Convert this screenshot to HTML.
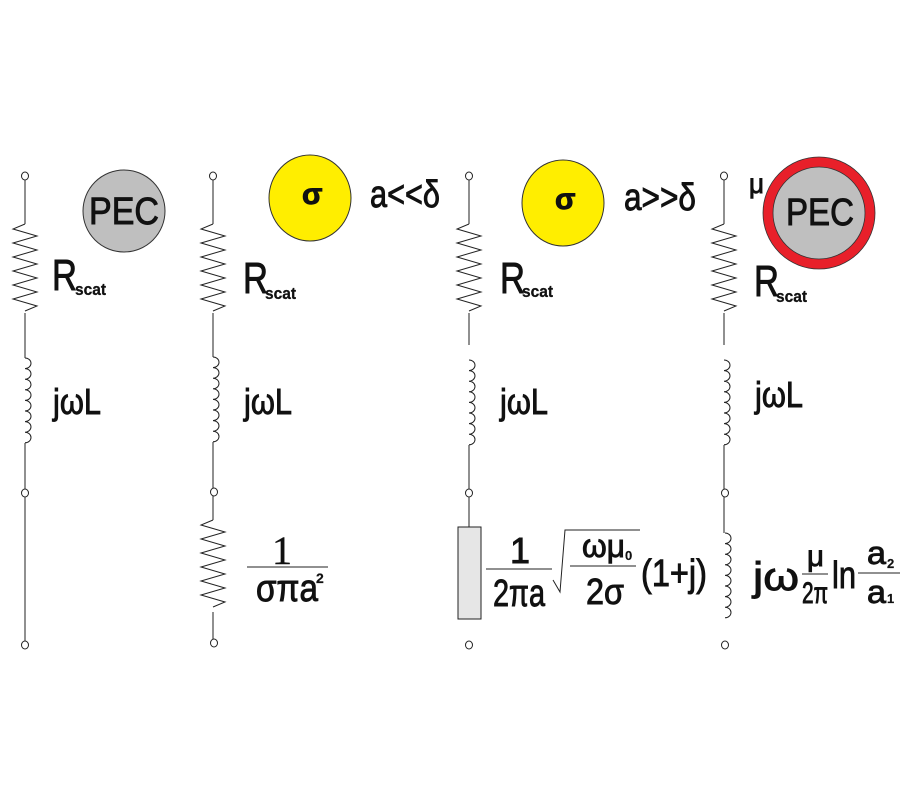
<!DOCTYPE html>
<html><head><meta charset="utf-8"><style>html,body{margin:0;padding:0;background:#fff}svg{display:block}.t{stroke:#111;stroke-width:0.9}</style></head>
<body>
<svg width="900" height="800" viewBox="0 0 900 800" xmlns="http://www.w3.org/2000/svg" font-family="Liberation Sans, Arial, sans-serif" fill="#111">
<defs>
<path id="res" d="M0,0 l-12,5 l24,7 l-24,7 l24,7 l-24,7 l24,7 l-24,7 l24,7 l-24,7 l24,7 l-24,7 l24,7 l-12,5" fill="none" stroke="#222" stroke-width="1"/>
<path id="ind" d="M0,0 a6,5.3 0 0 1 0,10.6 a6,5.3 0 0 1 0,10.6 a6,5.3 0 0 1 0,10.6 a6,5.3 0 0 1 0,10.6 a6,5.3 0 0 1 0,10.6 a6,5.3 0 0 1 0,10.6 a6,5.3 0 0 1 0,10.6 a6,5.3 0 0 1 0,10.6" fill="none" stroke="#222" stroke-width="1"/>
</defs>
<g stroke="#222" stroke-width="1" fill="none">
<line x1="25" y1="180" x2="25" y2="224"/><line x1="25" y1="313" x2="25" y2="358"/><line x1="25" y1="443" x2="25" y2="489"/><line x1="25" y1="497" x2="25" y2="641"/>
<line x1="213" y1="180" x2="213" y2="224"/><line x1="213" y1="313" x2="213" y2="357"/><line x1="213" y1="442" x2="213" y2="488"/><line x1="213" y1="496" x2="213" y2="520"/><line x1="213" y1="612" x2="213" y2="639"/>
<line x1="469" y1="180" x2="469" y2="224"/><line x1="469" y1="313" x2="469" y2="345"/><line x1="469" y1="445" x2="469" y2="489"/><line x1="469" y1="497" x2="469" y2="527"/>
<line x1="724" y1="180" x2="724" y2="224"/><line x1="724" y1="313" x2="724" y2="345"/><line x1="724" y1="445" x2="724" y2="489"/><line x1="724" y1="497" x2="724" y2="533"/>
</g>
<g fill="#fff" stroke="#222" stroke-width="1">
<ellipse cx="25" cy="176" rx="3.5" ry="4"/><ellipse cx="25" cy="493" rx="3.5" ry="4"/><ellipse cx="25" cy="645" rx="3.5" ry="4"/>
<ellipse cx="213" cy="176" rx="3.5" ry="4"/><ellipse cx="214" cy="492" rx="3.5" ry="4"/><ellipse cx="214" cy="643" rx="3.5" ry="4"/>
<ellipse cx="469" cy="176" rx="3.5" ry="4"/><ellipse cx="469" cy="493" rx="3.5" ry="4"/><ellipse cx="469" cy="645" rx="3.5" ry="4"/>
<ellipse cx="724" cy="176" rx="3.5" ry="4"/><ellipse cx="725" cy="493" rx="3.5" ry="4"/><ellipse cx="725" cy="645" rx="3.5" ry="4"/>
</g>
<use href="#res" x="25" y="224"/><use href="#res" x="213" y="224"/><use href="#res" x="213" y="520"/>
<use href="#res" x="469" y="224"/><use href="#res" x="724" y="224"/>
<use href="#ind" x="25" y="358"/><use href="#ind" x="213" y="357"/><use href="#ind" x="469" y="360"/><use href="#ind" x="724" y="360"/><use href="#ind" x="725" y="533"/>
<rect x="458" y="527" width="23" height="92" fill="#e6e6e6" stroke="#222" stroke-width="1"/>
<circle cx="124" cy="211" r="41" fill="#bfbfbf" stroke="#333"/>
<ellipse cx="310" cy="198" rx="41" ry="43" fill="#ffee00" stroke="#333"/>
<ellipse cx="563" cy="203" rx="41" ry="43" fill="#ffee00" stroke="#333"/>
<circle cx="819" cy="213" r="51" fill="#bfbfbf" stroke="#e8202a" stroke-width="10"/>
<circle cx="819" cy="213" r="56" fill="none" stroke="#333" stroke-width="0.8"/>
<circle cx="819" cy="213" r="46" fill="none" stroke="#333" stroke-width="0.8"/>
<g class="t">
<g font-size="38">
<text x="89" y="224" textLength="70" lengthAdjust="spacingAndGlyphs">PEC</text>
<text x="786" y="225" textLength="68" lengthAdjust="spacingAndGlyphs">PEC</text>
<text x="302" y="204" font-size="30" font-weight="bold">σ</text>
<text x="555" y="209" font-size="30" font-weight="bold">σ</text>
<text x="370" y="207" textLength="70" lengthAdjust="spacingAndGlyphs">a&lt;&lt;δ</text>
<text x="624" y="210" textLength="72" lengthAdjust="spacingAndGlyphs">a&gt;&gt;δ</text>
<text x="749" y="193" font-size="28" textLength="15" lengthAdjust="spacingAndGlyphs">μ</text>
</g>
<g font-size="44">
<text x="52" y="290" textLength="25" lengthAdjust="spacingAndGlyphs">R</text><text x="75" y="295" font-size="17" font-weight="bold" stroke-width="0.3" textLength="31" lengthAdjust="spacingAndGlyphs">scat</text>
<text x="243" y="293" textLength="25" lengthAdjust="spacingAndGlyphs">R</text><text x="265" y="299" font-size="17" font-weight="bold" stroke-width="0.3" textLength="31" lengthAdjust="spacingAndGlyphs">scat</text>
<text x="500" y="293" textLength="25" lengthAdjust="spacingAndGlyphs">R</text><text x="522" y="297" font-size="17" font-weight="bold" stroke-width="0.3" textLength="31" lengthAdjust="spacingAndGlyphs">scat</text>
<text x="754" y="296" textLength="25" lengthAdjust="spacingAndGlyphs">R</text><text x="776" y="302" font-size="17" font-weight="bold" stroke-width="0.3" textLength="31" lengthAdjust="spacingAndGlyphs">scat</text>
</g>
<g font-size="36">
<text x="53" y="414" textLength="48" lengthAdjust="spacingAndGlyphs">jωL</text>
<text x="244" y="414" textLength="48" lengthAdjust="spacingAndGlyphs">jωL</text>
<text x="500" y="414" textLength="48" lengthAdjust="spacingAndGlyphs">jωL</text>
<text x="755" y="407" textLength="48" lengthAdjust="spacingAndGlyphs">jωL</text>
</g>
<text x="272" y="564" font-size="40" font-family="Liberation Serif, serif" stroke-width="0.4">1</text>
<text x="256" y="601" font-size="38" textLength="62" lengthAdjust="spacingAndGlyphs">σπa</text>
<text x="316" y="583" font-size="14" font-weight="bold" stroke-width="0.2">2</text>
<text x="510" y="563" font-size="36" textLength="20" lengthAdjust="spacingAndGlyphs">1</text>
<text x="493" y="606" font-size="38" textLength="52" lengthAdjust="spacingAndGlyphs">2πa</text>
<text x="582" y="557" font-size="32" textLength="43" lengthAdjust="spacingAndGlyphs">ωμ</text>
<text x="625" y="560" font-size="13" font-weight="bold" stroke-width="0.2">0</text>
<text x="586" y="604" font-size="36" textLength="38" lengthAdjust="spacingAndGlyphs">2σ</text>
<text x="641" y="586" font-size="38" textLength="66" lengthAdjust="spacingAndGlyphs">(1+j)</text>
<text x="753" y="590" font-size="40" textLength="46" lengthAdjust="spacingAndGlyphs">jω</text>
<text x="807" y="566" font-size="30" textLength="17" lengthAdjust="spacingAndGlyphs">μ</text>
<text x="802" y="603" font-size="30" textLength="26" lengthAdjust="spacingAndGlyphs">2π</text>
<text x="832" y="588" font-size="38" textLength="24" lengthAdjust="spacingAndGlyphs">ln</text>
<text x="867" y="564" font-size="32" textLength="19" lengthAdjust="spacingAndGlyphs">a</text>
<text x="887" y="568" font-size="13" font-weight="bold" stroke-width="0.2">2</text>
<text x="867" y="603" font-size="32" textLength="19" lengthAdjust="spacingAndGlyphs">a</text>
<text x="887" y="603" font-size="13" font-weight="bold" stroke-width="0.2">1</text>
</g>
<line x1="247" y1="567" x2="328" y2="567" stroke="#222" stroke-width="1"/>
<line x1="486" y1="569" x2="552" y2="569" stroke="#222"/>
<polyline points="553,580 560,592 565,530 640,530" fill="none" stroke="#222"/>
<line x1="570" y1="566" x2="636" y2="566" stroke="#222"/>
<line x1="802" y1="574" x2="828" y2="574" stroke="#222"/>
<line x1="858" y1="573" x2="900" y2="573" stroke="#222"/>
</svg>
</body></html>
